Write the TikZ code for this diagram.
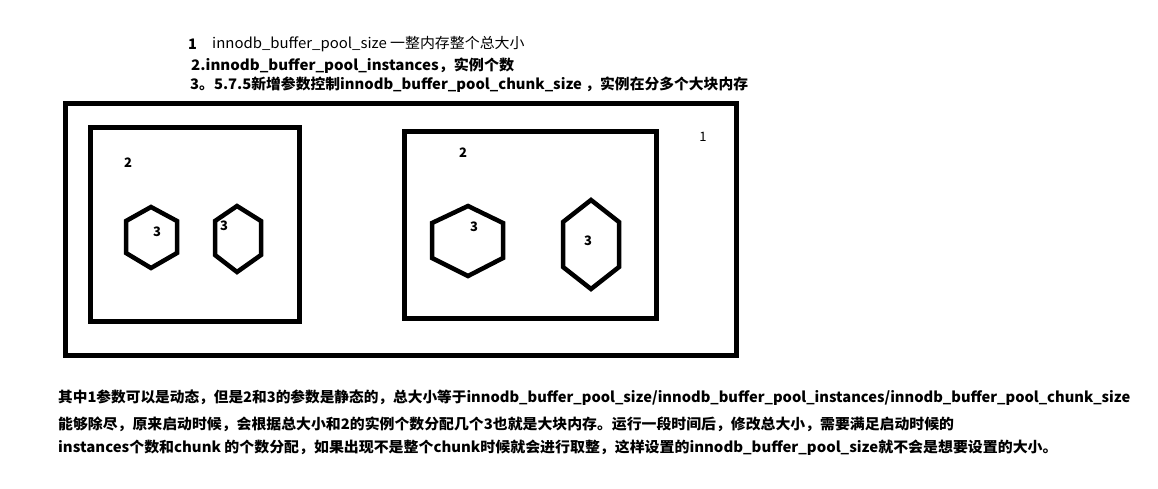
\documentclass[tikz,border=0pt]{standalone}
\usepackage{fontspec}
\setmainfont{Noto Sans CJK SC}
\begin{document}
\begin{tikzpicture}[x=1pt,y=-1pt,
  frame/.style={draw=black,line width=5pt},
  hex/.style={draw=black,line width=4.5pt,line join=miter},
  lbl/.style={inner sep=0pt,font=\fontsize{13}{15}\selectfont\bfseries},
  txt/.style={inner sep=0pt,anchor=west,font=\fontsize{14.5}{16}\selectfont\bfseries}]
\useasboundingbox (0,0) rectangle (1158,488);
\fill[white] (0,0) rectangle (1158,488);
% header text
\node[txt] (h1n) at (188,44) {1};
\node[txt,font=\fontsize{14.5}{16}\selectfont] (h1) at (212,44) {\scalebox{1.03}[1]{innodb\_buffer\_pool\_size 一整内存整个总大小}};
\node[txt] (h2) at (191,66) {\scalebox{1.04}[1]{2.innodb\_buffer\_pool\_instances，实例个数}};
\node[txt] (h3) at (190,85) {\scalebox{1.02}[1]{3。5.7.5新增参数控制innodb\_buffer\_pool\_chunk\_size ，实例在分多个大块内存}};
% frames
\draw[frame] (65,103) rectangle (736,355);
\draw[frame] (90,127) rectangle (299,321);
\draw[frame] (404,131) rectangle (656,318);
\node[inner sep=0pt,font=\fontsize{13}{15}\selectfont] (one) at (703,137) {1};
\node[lbl] (two1) at (128,163) {2};
\node[lbl] (two2) at (463,153) {2};
% hexagons
\draw[hex] (151,207) -- (177,221) -- (177,253) -- (151,268) -- (126,253) -- (126,221) -- cycle;
\draw[hex] (237,206) -- (261,221) -- (261,255) -- (237,272) -- (215,255) -- (215,221) -- cycle;
\draw[hex] (468,206) -- (503,223) -- (503,258) -- (468,276) -- (432,258) -- (432,223) -- cycle;
\draw[hex] (591,200) -- (619,222) -- (619,267) -- (591,289) -- (563,267) -- (563,222) -- cycle;
\node[lbl] (t1) at (157,232) {3};
\node[lbl] (t2) at (224,226) {3};
\node[lbl] (t3) at (474,227) {3};
\node[lbl] (t4) at (588,241) {3};
% bottom text
\node[txt] (b1) at (58,398) {\scalebox{1.012}[1]{其中1参数可以是动态，但是2和3的参数是静态的，总大小等于innodb\_buffer\_pool\_size/innodb\_buffer\_pool\_instances/innodb\_buffer\_pool\_chunk\_size}};
\node[txt] (b2) at (58,424) {\scalebox{1.026}[1]{能够除尽，原来启动时候，会根据总大小和2的实例个数分配几个3也就是大块内存。运行一段时间后，修改总大小，需要满足启动时候的}};
\node[txt] (b3) at (58,448) {\scalebox{1.03}[1]{instances个数和chunk 的个数分配，如果出现不是整个chunk时候就会进行取整，这样设置的innodb\_buffer\_pool\_size就不会是想要设置的大小。}};
\end{tikzpicture}
\end{document}
